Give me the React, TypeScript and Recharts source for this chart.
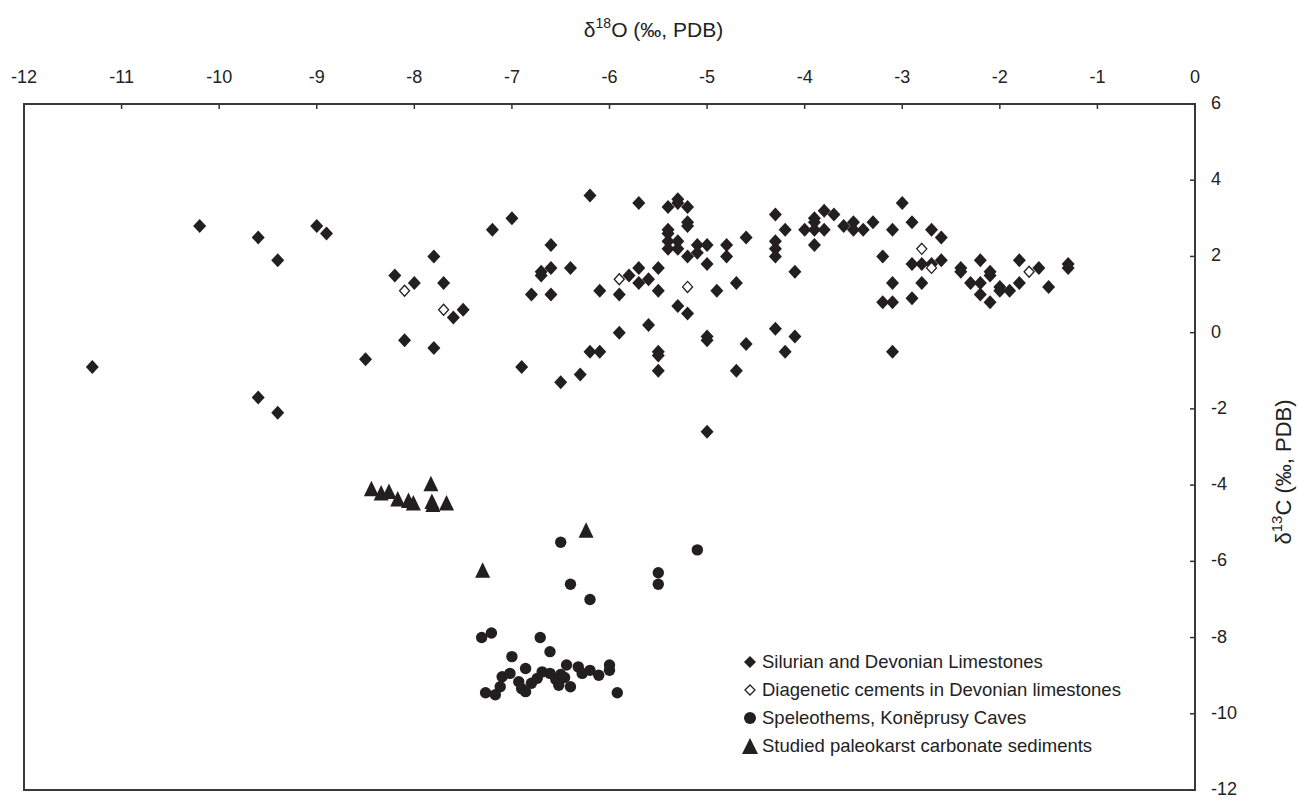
import React from 'react';
import {
  ScatterChart,
  Scatter,
  XAxis,
  YAxis,
  ReferenceArea,
  Legend,
} from 'recharts';

// δ18O, δ13C pairs
const limestones: [number, number][] = [
  [-11.3, -0.9], [-10.2, 2.8], [-9.6, 2.5], [-9.4, 1.9], [-9.0, 2.8], [-8.9, 2.6],
  [-9.6, -1.7], [-9.4, -2.1], [-8.5, -0.7], [-8.2, 1.5], [-8.0, 1.3], [-8.1, -0.2],
  [-7.8, 2.0], [-7.7, 1.3], [-7.8, -0.4], [-7.6, 0.4], [-7.5, 0.6], [-7.2, 2.7],
  [-7.0, 3.0], [-6.9, -0.9], [-6.8, 1.0], [-6.7, 1.6], [-6.7, 1.5], [-6.6, 2.3],
  [-6.6, 1.7], [-6.6, 1.0], [-6.5, -1.3], [-6.4, 1.7], [-6.3, -1.1], [-6.2, 3.6],
  [-6.2, -0.5], [-6.1, -0.5], [-6.1, 1.1], [-5.9, 1.0], [-5.9, 0.0], [-5.7, 3.4],
  [-5.7, 1.7], [-5.8, 1.5], [-5.7, 1.3], [-5.6, 0.2], [-5.6, 1.4],
  [-5.5, 1.7], [-5.5, 1.1], [-5.5, -0.5], [-5.5, -0.6], [-5.5, -1.0], [-5.4, 3.3],
  [-5.4, 2.7], [-5.4, 2.6], [-5.4, 2.4], [-5.4, 2.2], [-5.3, 3.5], [-5.3, 3.4],
  [-5.3, 2.4], [-5.3, 2.2], [-5.3, 0.7], [-5.2, 3.3], [-5.2, 2.9], [-5.2, 2.8],
  [-5.2, 2.0], [-5.2, 0.5], [-5.1, 2.3], [-5.1, 2.1], [-5.0, 2.3], [-5.0, 1.8],
  [-5.0, -0.1], [-5.0, -0.2], [-5.0, -2.6], [-4.9, 1.1], [-4.8, 2.3], [-4.8, 2.0],
  [-4.7, 1.3], [-4.7, -1.0], [-4.6, 2.5], [-4.6, -0.3], [-4.3, 3.1], [-4.3, 2.4],
  [-4.3, 2.2], [-4.3, 2.0], [-4.3, 0.1], [-4.2, 2.7], [-4.2, -0.5], [-4.1, 1.6],
  [-4.1, -0.1], [-4.0, 2.7], [-3.9, 3.0], [-3.9, 2.9], [-3.9, 2.7], [-3.9, 2.3],
  [-3.8, 2.7], [-3.8, 3.2], [-3.7, 3.1], [-3.6, 2.8], [-3.5, 2.9], [-3.5, 2.7],
  [-3.4, 2.7], [-3.3, 2.9], [-3.2, 2.0], [-3.2, 0.8], [-3.1, 2.7], [-3.1, 1.3],
  [-3.1, 0.8], [-3.1, -0.5], [-3.0, 3.4], [-2.9, 2.9], [-2.9, 1.8], [-2.9, 0.9],
  [-2.8, 1.8], [-2.8, 1.3], [-2.7, 2.7], [-2.7, 1.8], [-2.6, 2.5], [-2.6, 1.9],
  [-2.4, 1.7], [-2.4, 1.6], [-2.3, 1.3], [-2.2, 1.9], [-2.2, 1.3], [-2.2, 1.0],
  [-2.1, 1.6], [-2.1, 1.5], [-2.1, 0.8], [-2.0, 1.2], [-2.0, 1.1], [-1.9, 1.1],
  [-1.8, 1.9], [-1.8, 1.3], [-1.6, 1.7], [-1.5, 1.2], [-1.3, 1.8], [-1.3, 1.7],
];

const cements: [number, number][] = [
  [-8.1, 1.1], [-7.7, 0.6], [-5.9, 1.4], [-5.2, 1.2], [-2.8, 2.2], [-2.7, 1.7], [-1.7, 1.6],
];

const speleothems: [number, number][] = [
  [-6.5, -5.5], [-6.4, -6.6], [-6.2, -7.0], [-5.5, -6.3], [-5.5, -6.6], [-5.1, -5.7],
  [-7.31, -8.0], [-7.21, -7.88], [-6.71, -8.0], [-6.61, -8.37], [-7.0, -8.5],
  [-6.0, -8.72], [-6.0, -8.86], [-5.92, -9.45], [-7.27, -9.45], [-7.17, -9.5],
  [-7.12, -9.29], [-7.1, -9.03], [-7.02, -8.94], [-6.93, -9.16], [-6.9, -9.34],
  [-6.86, -8.81], [-6.86, -9.42], [-6.8, -9.2], [-6.74, -9.07], [-6.69, -8.9],
  [-6.61, -8.94], [-6.55, -9.1], [-6.52, -9.25], [-6.5, -8.97], [-6.46, -9.05],
  [-6.44, -8.72], [-6.4, -9.29], [-6.32, -8.77], [-6.28, -8.94], [-6.2, -8.86],
  [-6.11, -8.99],
];

const paleokarst: [number, number][] = [
  [-8.44, -4.11], [-8.34, -4.22], [-8.26, -4.18], [-8.17, -4.38], [-8.06, -4.42],
  [-8.01, -4.48], [-7.83, -3.98], [-7.82, -4.44], [-7.81, -4.52], [-7.67, -4.48],
  [-7.3, -6.25], [-6.24, -5.2],
];

const xTicks = [-12, -11, -10, -9, -8, -7, -6, -5, -4, -3, -2, -1, 0];
const yTicks = [-12, -10, -8, -6, -4, -2, 0, 2, 4, 6];

const seriesNames = [
  'Silurian and Devonian Limestones',
  'Diagenetic cements in Devonian limestones',
  'Speleothems, Koněprusy Caves',
  'Studied paleokarst carbonate sediments',
];

const toPoints = (arr: [number, number][]) => arr.map(([x, y]) => ({ x, y }));

const INK = '#231f20';
const FONT = '"Liberation Sans", Arial, sans-serif';

const FilledDiamond = (p: any) => (
  <polygon
    points={`${p.cx},${p.cy - 7} ${p.cx + 6.5},${p.cy} ${p.cx},${p.cy + 7} ${p.cx - 6.5},${p.cy}`}
    fill={INK}
  />
);
const OpenDiamond = (p: any) => (
  <polygon
    points={`${p.cx},${p.cy - 5.5} ${p.cx + 5},${p.cy} ${p.cx},${p.cy + 5.5} ${p.cx - 5},${p.cy}`}
    fill="#fff"
    stroke={INK}
    strokeWidth={1.3}
  />
);
const Dot = (p: any) => <circle cx={p.cx} cy={p.cy} r={5.7} fill={INK} />;
const Triangle = (p: any) => (
  <polygon
    points={`${p.cx},${p.cy - 8.5} ${p.cx + 7.5},${p.cy + 7} ${p.cx - 7.5},${p.cy + 7}`}
    fill={INK}
  />
);

const XTick = (props: any) => {
  const { x, y, payload } = props;
  return (
    <g>
      <line x1={x} y1={y} x2={x} y2={y + 5} stroke="#333" strokeWidth={1.5} />
      <text x={x} y={y - 27} textAnchor="middle" dominantBaseline="central" fontSize={18} fill="#222" fontFamily={FONT}>
        {payload.value}
      </text>
    </g>
  );
};

const YTick = (props: any) => {
  const { x, y, payload } = props;
  return (
    <g>
      <line x1={x - 5} y1={y} x2={x} y2={y} stroke="#333" strokeWidth={1.5} />
      <text x={x + 16} y={y - 1} textAnchor="start" dominantBaseline="central" fontSize={18} fill="#222" fontFamily={FONT}>
        {payload.value}
      </text>
    </g>
  );
};

const XTitle = (props: any) => {
  const vb = props.viewBox;
  return (
    <text x={vb.x + vb.width / 2 + 44} y={vb.y + 37} textAnchor="middle" fontSize={21} fill="#222" fontFamily={FONT}>
      δ<tspan fontSize={14} dy={-9}>18</tspan>
      <tspan dy={9}>O (‰, PDB)</tspan>
    </text>
  );
};

const YTitle = (props: any) => {
  const vb = props.viewBox;
  const cx = vb.x + 96;
  const cy = vb.y + vb.height / 2 + 25;
  return (
    <text x={cx} y={cy} transform={`rotate(-90 ${cx} ${cy})`} textAnchor="middle" fontSize={22} fill="#222" fontFamily={FONT}>
      δ<tspan fontSize={15} dy={-9}>13</tspan>
      <tspan dy={9}>C (‰, PDB)</tspan>
    </text>
  );
};

const legendMarkers = [
  <polygon key="a" points="8,2 14,8 8,14 2,8" fill={INK} />,
  <polygon key="b" points="8,3 13,8 8,13 3,8" fill="#fff" stroke={INK} strokeWidth={1.3} />,
  <circle key="c" cx={8} cy={8} r={6} fill={INK} />,
  <polygon key="d" points="8,0 16,16 0,16" fill={INK} />,
];

const LegendContent = () => (
  <div style={{ fontFamily: FONT, fontSize: 18.5, color: '#222' }}>
    {seriesNames.map((name, i) => (
      <div key={name} style={{ display: 'flex', alignItems: 'center', height: 28, whiteSpace: 'nowrap' }}>
        <svg width={16} height={16} style={{ flex: 'none' }}>{legendMarkers[i]}</svg>
        <span style={{ marginLeft: 4 }}>{name}</span>
      </div>
    ))}
  </div>
);

export default function App() {
  return (
    <div style={{ position: 'absolute', left: 0, top: 0, background: '#fff' }}>
      <ScatterChart width={1298} height={798} margin={{ top: 0, right: 0, left: 24, bottom: 8 }}>
        <XAxis
          type="number"
          dataKey="x"
          orientation="top"
          domain={[-12, 0]}
          ticks={xTicks}
          height={104}
          axisLine={false}
          tickLine={false}
          tickSize={0}
          tickMargin={0}
          tick={<XTick />}
          interval={0}
          label={<XTitle />}
        />
        <YAxis
          type="number"
          dataKey="y"
          orientation="right"
          domain={[-12, 6]}
          ticks={yTicks}
          width={103}
          axisLine={false}
          tickLine={false}
          tickSize={0}
          tickMargin={0}
          tick={<YTick />}
          interval={0}
          label={<YTitle />}
        />
        <ReferenceArea x1={-12} x2={0} y1={-12} y2={6} fill="none" stroke="#3a3a3a" strokeWidth={2} ifOverflow="visible" />
        <Legend
          layout="vertical"
          align="center"
          verticalAlign="middle"
          content={<LegendContent />}
          wrapperStyle={{ position: 'absolute', left: 742, top: 648, width: 'auto' }}
        />
        <Scatter name={seriesNames[0]} data={toPoints(limestones)} shape={FilledDiamond} isAnimationActive={false} />
        <Scatter name={seriesNames[1]} data={toPoints(cements)} shape={OpenDiamond} isAnimationActive={false} />
        <Scatter name={seriesNames[2]} data={toPoints(speleothems)} shape={Dot} isAnimationActive={false} />
        <Scatter name={seriesNames[3]} data={toPoints(paleokarst)} shape={Triangle} isAnimationActive={false} />
      </ScatterChart>
    </div>
  );
}
